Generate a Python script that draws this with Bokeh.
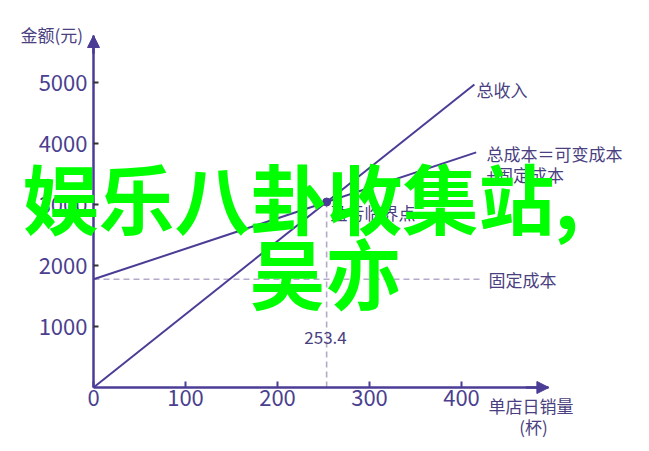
from bokeh.plotting import figure
from bokeh.models import Label, Arrow, NormalHead, FixedTicker, Range1d
from bokeh.embed import file_html
from bokeh.resources import INLINE

# ---- data ----
fixed_cost = 1774.0
unit_price = 12.0
unit_var_cost = 5.0
breakeven_qty = 253.4
revenue_x = [0, 414]
revenue_y = [0, 4968]
cost_x = [0, 416]
cost_y = [1774, 3854]
fixed_x = [0, 420]
fixed_y = [1774, 1774]
breakeven_y = 3041
x_ticks = [0, 100, 200, 300, 400]
y_ticks = [1000, 2000, 3000, 4000, 5000]
x_axis_max = 495
y_axis_max = 5770

PURPLE = "#4b3c96"
TEXT = "#4a3f80"
TICKTXT = "#4b3f8f"
DASH = "#b4aac8"
FONT = "Noto Sans CJK SC"

W, H = 641, 443
OX, OY = 93, 387          # page px of the data origin
SX, SY = 0.92, 0.061      # px per data unit

p = figure(width=W, height=H, min_border=0,
           x_range=Range1d(-OX / SX, (W - OX) / SX),
           y_range=Range1d(-(H - OY) / SY, OY / SY),
           output_backend="svg", toolbar_location=None)
p.outline_line_color = None
p.grid.visible = False
p.background_fill_color = "white"

p.xaxis.ticker = FixedTicker(ticks=x_ticks)
p.yaxis.ticker = FixedTicker(ticks=y_ticks)
p.xaxis.fixed_location = 0
p.yaxis.fixed_location = 0
p.xaxis.bounds = (0, x_axis_max)
p.yaxis.bounds = (0, y_axis_max)
for ax in (p.xaxis, p.yaxis):
    ax.axis_line_color = PURPLE
    ax.axis_line_width = 2.5
    ax.major_label_text_font = FONT
    ax.major_label_text_font_size = "22px"
    ax.major_label_text_color = TICKTXT
    ax.minor_tick_line_color = None
    ax.major_tick_out = 0
p.xaxis.major_tick_in = 6
p.xaxis.major_tick_line_color = PURPLE
p.xaxis.major_tick_line_width = 2
p.xaxis.major_label_standoff = 2
p.yaxis.major_tick_in = 5
p.yaxis.major_tick_line_color = "#333333"
p.yaxis.major_tick_line_width = 2
p.yaxis.major_label_standoff = 6

# axis arrows
p.add_layout(Arrow(end=NormalHead(size=12, fill_color=PURPLE, line_color=PURPLE),
                   x_start=0, y_start=y_axis_max - 300, x_end=0, y_end=y_axis_max,
                   line_color=PURPLE, line_width=2.5))
p.add_layout(Arrow(end=NormalHead(size=12, fill_color=PURPLE, line_color=PURPLE),
                   x_start=x_axis_max - 25, y_start=0, x_end=x_axis_max, y_end=0,
                   line_color=PURPLE, line_width=2.5))

# dashed guides
p.line(fixed_x, fixed_y, line_color=DASH, line_width=1.6, line_dash="6 4")
p.line([breakeven_qty, breakeven_qty], [0, breakeven_y], line_color=DASH, line_width=1.6, line_dash="6 4")

# lines
p.line(revenue_x, revenue_y, line_color=PURPLE, line_width=2)
p.line(cost_x, cost_y, line_color=PURPLE, line_width=2)
p.scatter([breakeven_qty], [breakeven_y], size=8, fill_color=PURPLE, line_color=PURPLE)


def lab(text, px, py, size="17px", color=TEXT, align="left", weight="normal"):
    p.add_layout(Label(x=(px - OX) / SX, y=(OY - py) / SY,
                       text=text, text_font=FONT, text_font_size=size,
                       text_color=color, text_align=align, text_baseline="middle",
                       text_font_style=weight))


lab("总收入", 476, 89)
lab("总成本＝可变成本", 486, 153)
lab("+固定成本", 486, 174)
lab("盈亏临界点", 330, 212)
lab("固定成本", 488, 279)
lab(str(breakeven_qty), 325, 337, align="center")
lab("金额(元)", 20, 34)
lab("单店日销量", 488, 405)
lab("(杯)", 533, 426, align="center")

# green overlay text
lab("娱乐八卦收集站,", 22, 195, size="76px", color="#00ff00", weight="bold")
lab("吴亦", 249, 270, size="76px", color="#00ff00", weight="bold")

open("out.html", "w").write(file_html(p, INLINE))
